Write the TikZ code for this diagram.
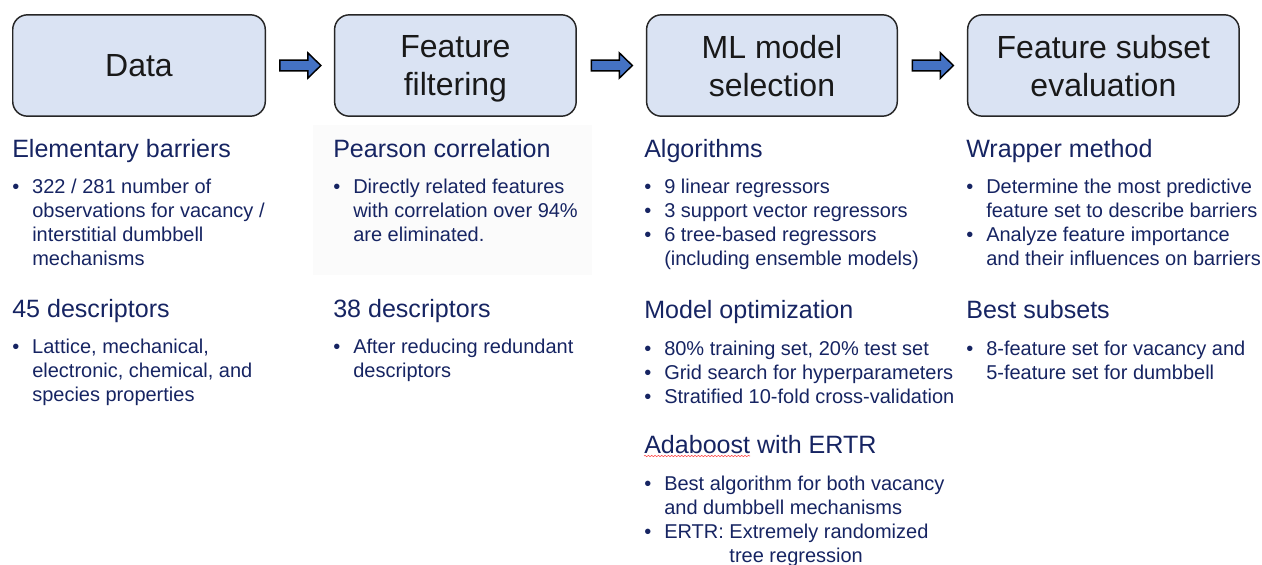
\documentclass[tikz,border=0pt]{standalone}
\usepackage{fontspec}
\setmainfont{Liberation Sans}
\usetikzlibrary{positioning,calc,decorations.pathmorphing}

\definecolor{boxfill}{HTML}{DAE3F3}
\definecolor{boxline}{HTML}{262626}
\definecolor{arrowblue}{HTML}{4472C4}
\definecolor{navy}{RGB}{22,36,98}

\tikzset{
  stage/.style={draw=boxline, fill=boxfill, line width=1.1pt, rounded corners=11pt,
    minimum height=76pt, align=center, inner sep=0pt, outer sep=0pt, text depth=0pt,
    text=black!90, font=\fontsize{24}{28.5}\selectfont},
  head/.style={anchor=base west, inner sep=0pt, text=navy, font=\fontsize{18.8}{22}\selectfont},
  items/.style={anchor=base west, inner sep=0pt, text=navy, font=\fontsize{15}{18}\selectfont},
  flowarrow/.pic={
    \filldraw[fill=arrowblue, draw=black, line width=1.1pt]
      (-15pt,-4.1pt) -- (6pt,-4.1pt) -- (6pt,-9.4pt) -- (15.7pt,0pt)
      -- (6pt,9.4pt) -- (6pt,4.1pt) -- (-15pt,4.1pt) -- cycle;}
}
\newcommand{\bul}{\makebox[15pt][l]{•}}

\begin{document}
\begin{tikzpicture}[x=0.75pt,y=0.75pt]
\path[use as bounding box] (0,0) rectangle (1262,-564);

% faint panel behind the filtering notes
\fill[black!1.5] (313,-125) rectangle (592,-275);

% stages
\node[stage, minimum width=189.4pt] (data) at (139,-65.5) {Data};
\node[stage, minimum width=181.2pt, right=52pt of data] (filt) {Feature\\filtering};
\node[stage, minimum width=188pt, right=52.8pt of filt] (model) {ML model\\selection};
\node[stage, minimum width=203.6pt, right=52.8pt of model] (eval) {Feature subset\\evaluation};

\foreach \a/\b in {data/filt, filt/model, model/eval}
  \path ($(\a.east)!0.5!(\b.west)$) pic {flowarrow};

% data column
\node[head] (elem) at (12,-157) {Elementary barriers};
\node[items] (elemlist) at ($(elem.base west)+(0,-36)$) {\begin{tabular}[t]{@{}l@{}l@{}}
\bul & 322 / 281 number of\\
 & observations for vacancy /\\
 & interstitial dumbbell\\
 & mechanisms
\end{tabular}};
\node[head] (desc) at (12,-317) {45 descriptors};
\node[items] (desclist) at ($(desc.base west)+(0,-36)$) {\begin{tabular}[t]{@{}l@{}l@{}}
\bul & Lattice, mechanical,\\
 & electronic, chemical, and\\
 & species properties
\end{tabular}};

% filtering column
\node[head] (pear) at (333,-157) {Pearson correlation};
\node[items] (pearlist) at ($(pear.base west)+(0,-36)$) {\begin{tabular}[t]{@{}l@{}l@{}}
\bul & Directly related features\\
 & with correlation over 94\%\\
 & are eliminated.
\end{tabular}};
\node[head] (red) at (333,-317) {38 descriptors};
\node[items] (redlist) at ($(red.base west)+(0,-36)$) {\begin{tabular}[t]{@{}l@{}l@{}}
\bul & After reducing redundant\\
 & descriptors
\end{tabular}};

% model column
\node[head] (algo) at (644,-157) {Algorithms};
\node[items] (algolist) at ($(algo.base west)+(0,-36)$) {\begin{tabular}[t]{@{}l@{}l@{}}
\bul & 9 linear regressors\\
\bul & 3 support vector regressors\\
\bul & 6 tree-based regressors\\
 & (including ensemble models)
\end{tabular}};
\node[head] (opt) at (644,-318) {Model optimization};
\node[items] (optlist) at ($(opt.base west)+(0,-37)$) {\begin{tabular}[t]{@{}l@{}l@{}}
\bul & 80\% training set, 20\% test set\\
\bul & Grid search for hyperparameters\\
\bul & Stratified 10-fold cross-validation
\end{tabular}};
\node[head] (ada) at (644,-453) {Adaboost with ERTR};
\node[items] (adalist) at ($(ada.base west)+(0,-37)$) {\begin{tabular}[t]{@{}l@{}l@{}}
\bul & Best algorithm for both vacancy\\
 & and dumbbell mechanisms\\
\bul & ERTR: Extremely randomized\\
 & \phantom{ERTR: }tree regression
\end{tabular}};
\draw[red!75, line width=0.4pt, decorate, decoration={snake, amplitude=0.5pt, segment length=2.5pt}]
  ($(ada.base west)+(0,-3)$) -- ++(106,0);

% evaluation column
\node[head] (wrap) at (966,-157) {Wrapper method};
\node[items] (wraplist) at ($(wrap.base west)+(0,-36)$) {\begin{tabular}[t]{@{}l@{}l@{}}
\bul & Determine the most predictive\\
 & feature set to describe barriers\\
\bul & Analyze feature importance\\
 & and their influences on barriers
\end{tabular}};
\node[head] (best) at (966,-318) {Best subsets};
\node[items] (bestlist) at ($(best.base west)+(0,-37)$) {\begin{tabular}[t]{@{}l@{}l@{}}
\bul & 8-feature set for vacancy and\\
 & 5-feature set for dumbbell
\end{tabular}};
\end{tikzpicture}
\end{document}
